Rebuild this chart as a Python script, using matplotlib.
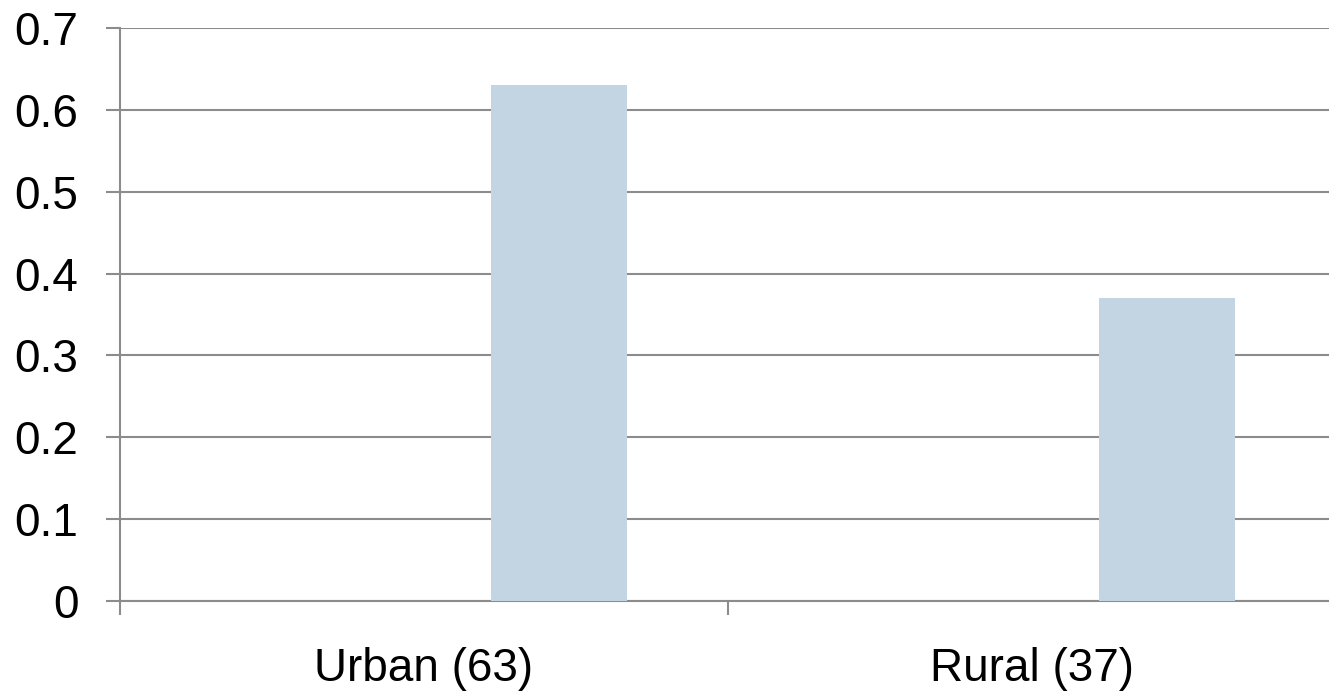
import numpy as np
import matplotlib
matplotlib.use("Agg")
from matplotlib import pyplot as plt

# share of respondents by area
categories = ["Urban (63)", "Rural (37)"]
share = [0.63, 0.37]
y_ticks = [0, 0.1, 0.2, 0.3, 0.4, 0.5, 0.6, 0.7]

plt.rcParams["font.family"] = ["Liberation Sans", "DejaVu Sans"]

grid_col = "#8c8c8c"
bar_col = "#c3d4e3"

fig = plt.figure(figsize=(13.29, 6.99), dpi=100, facecolor="white")
ax = fig.add_axes([0.0903, 0.1402, 0.915, 0.8197])

# bars sit right of the category centre, as the second series of a pair
x = np.arange(len(categories)) + 0.5
bar_w = 0.2237
ax.bar(x + 0.222, share, width=bar_w, color=bar_col, zorder=3)

ax.set_xlim(0, len(categories))
ax.set_ylim(0, 0.7)
ax.set_yticks(y_ticks)
ax.set_yticklabels([f"{v:g}" for v in y_ticks])
ax.yaxis.grid(True, color=grid_col, lw=1.5, zorder=1)
for sp in ["top", "right", "bottom"]:
    ax.spines[sp].set_visible(False)
ax.spines["left"].set_color(grid_col)
ax.spines["left"].set_linewidth(1.5)
ax.axhline(0, color=grid_col, lw=1.5, zorder=2, clip_on=False)

# category ticks on the boundaries, labels in the middle
ax.set_xticks(np.arange(len(categories) + 1))
ax.set_xticklabels([])
ax.set_xticks(x, minor=True)
ax.set_xticklabels(categories, minor=True)
ax.tick_params(axis="x", which="major", length=10, width=1.5, color=grid_col, direction="out")
ax.tick_params(axis="x", which="minor", length=0, pad=33, labelsize=33)
ax.tick_params(axis="y", length=10, width=1.5, color=grid_col, direction="out", pad=20, labelsize=33)

fig.savefig("out.png", dpi=100, facecolor="white")
